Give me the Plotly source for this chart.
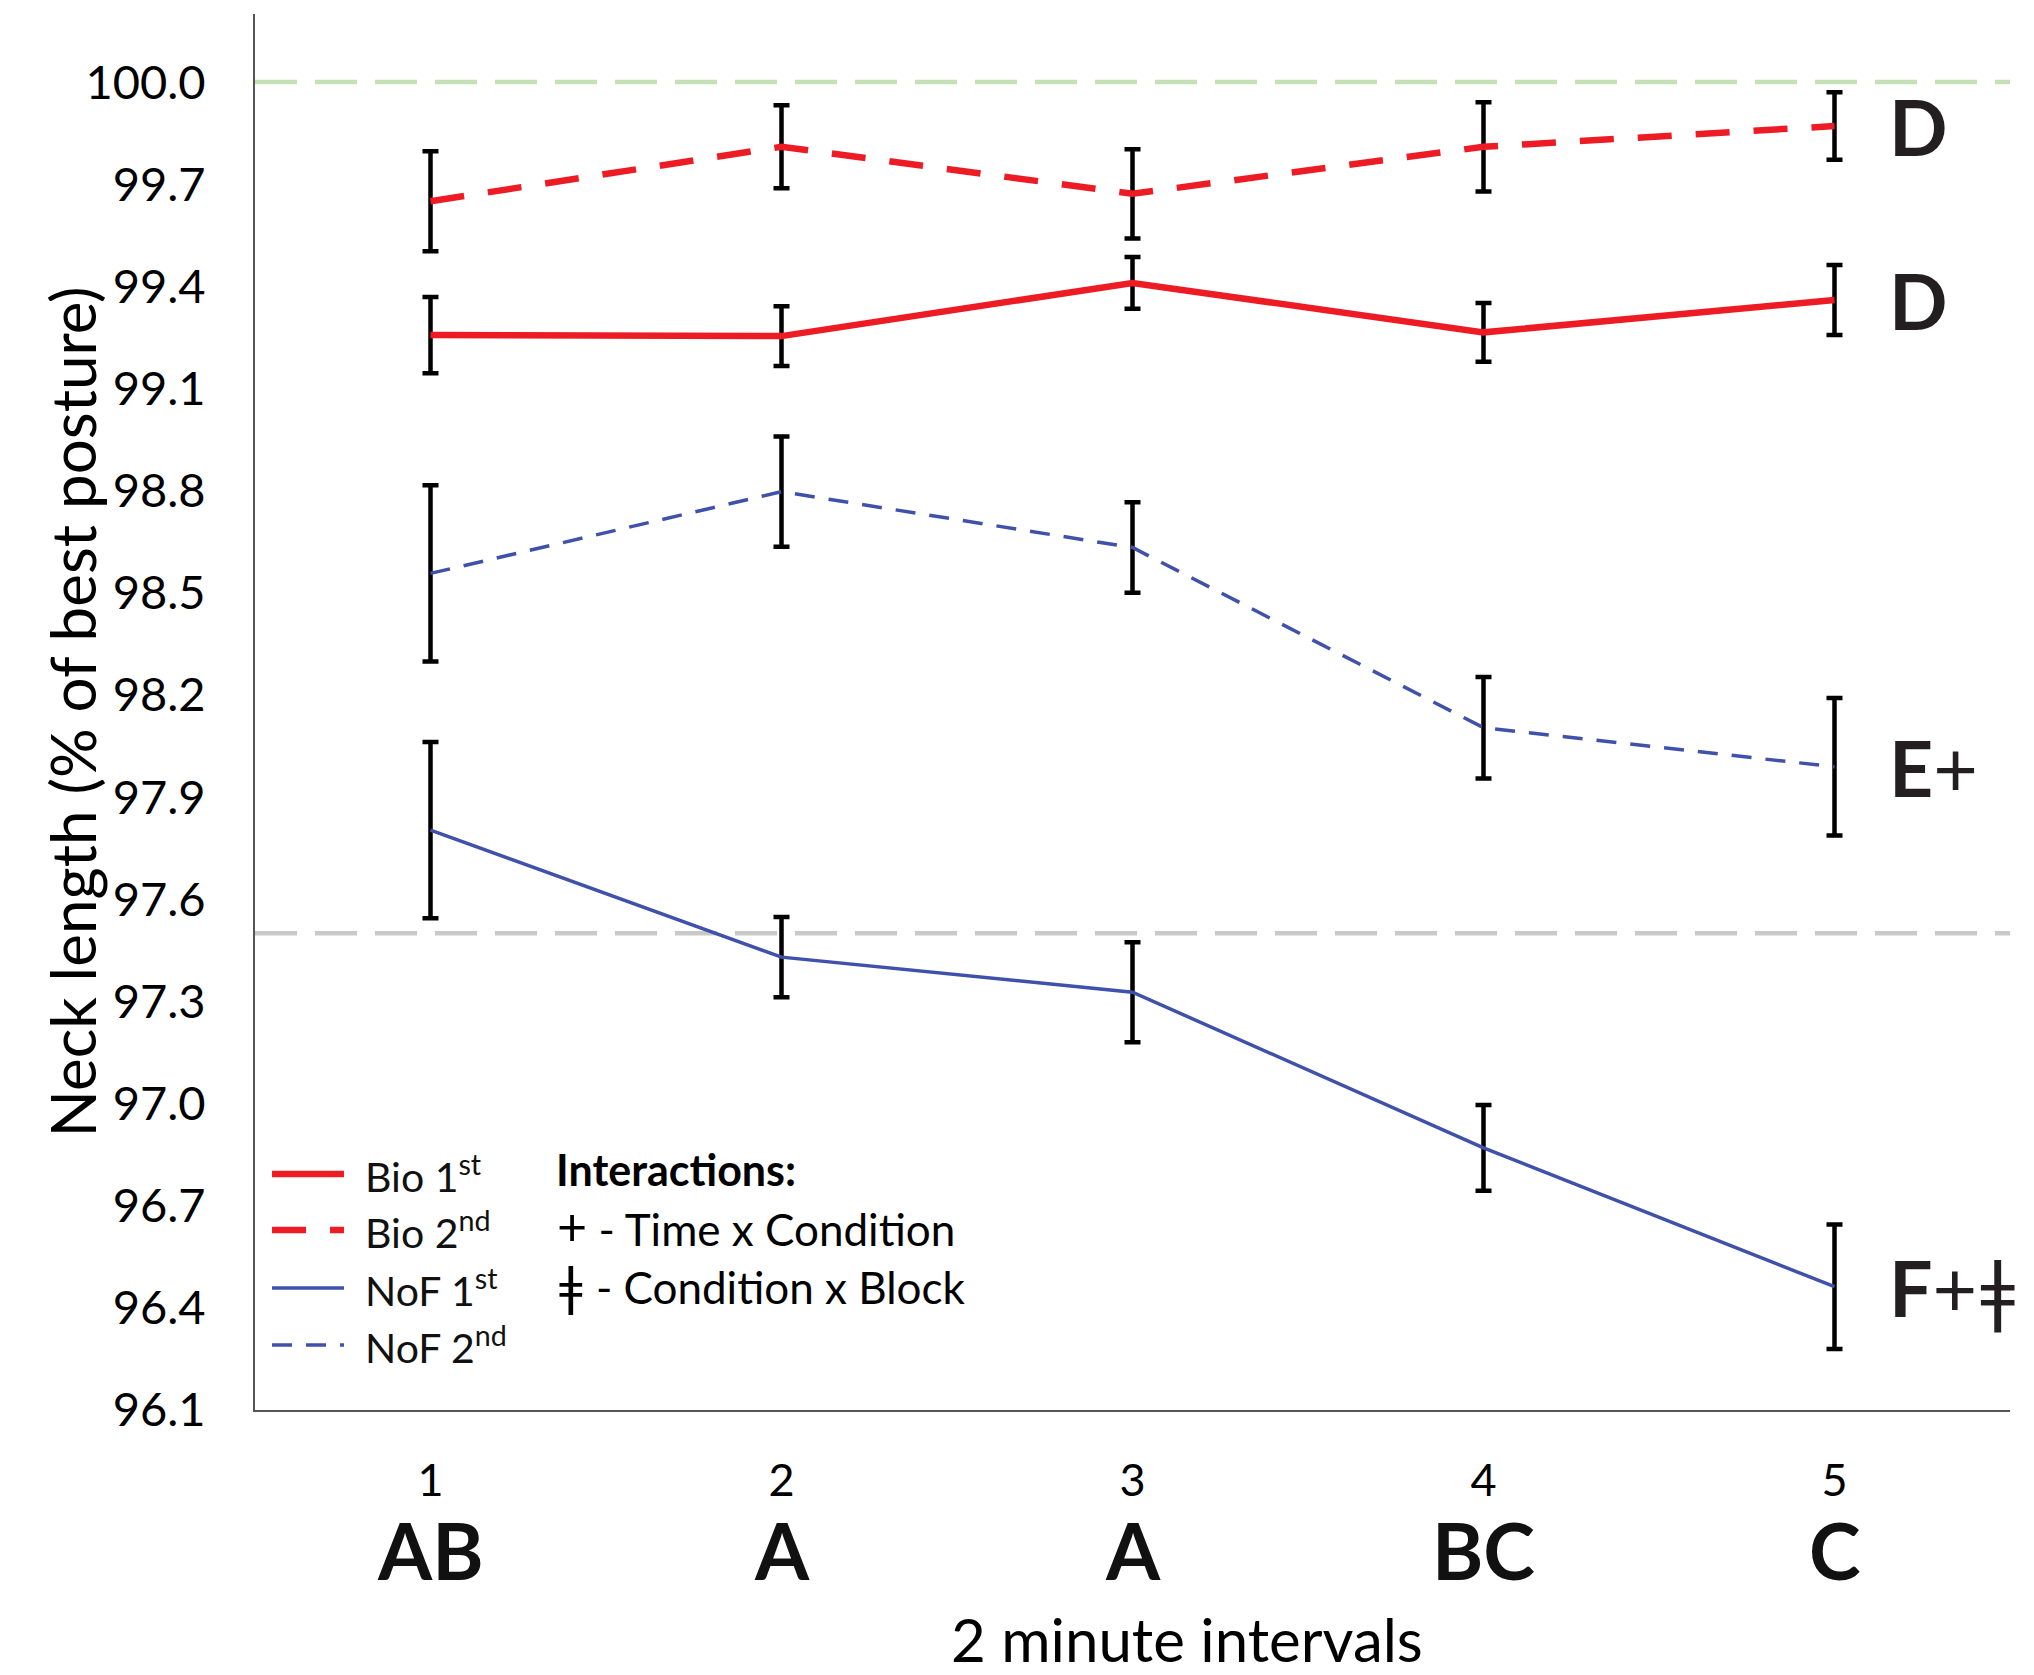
import plotly.graph_objects as go

# ---------------- data ----------------
intervals = [1, 2, 3, 4, 5]
interval_labels = ["1", "2", "3", "4", "5"]
interval_groups = ["AB", "A", "A", "BC", "C"]

bio1 = [99.257, 99.254, 99.410, 99.265, 99.360]
bio1_err = [0.112, 0.088, 0.076, 0.086, 0.103]
bio2 = [99.650, 99.810, 99.672, 99.810, 99.871]
bio2_err = [0.147, 0.122, 0.131, 0.131, 0.099]
nof1 = [97.803, 97.430, 97.327, 96.870, 96.462]
nof1_err = [0.259, 0.118, 0.147, 0.126, 0.183]
nof2 = [98.557, 98.797, 98.633, 98.104, 97.989]
nof2_err = [0.259, 0.162, 0.133, 0.149, 0.202]

series_names = ["Bio 1<sup>st</sup>", "Bio 2<sup>nd</sup>", "NoF 1<sup>st</sup>", "NoF 2<sup>nd</sup>"]
end_groups = ["D", "D", "F", "E"]
end_marks = ["", "", "+ǂ", "+"]

y_tickvals = [96.1, 96.4, 96.7, 97.0, 97.3, 97.6, 97.9, 98.2, 98.5, 98.8, 99.1, 99.4, 99.7, 100.0]
best_posture = 100.0
threshold = 97.5

interaction_title = "Interactions:"
interaction_symbols = ["+", "ǂ"]
interaction_texts = [" - Time x Condition", " - Condition x Block"]

# ---------------- styling ----------------
RED = "#ED1C24"
BLUE = "#3F51AA"
FONT = "Lato"

line_styles = [
    dict(color=RED, width=6.5, dash="solid"),
    dict(color=RED, width=6.5, dash="34px,24px"),
    dict(color=BLUE, width=3.5, dash="solid"),
    dict(color=BLUE, width=3.5, dash="20px,14px"),
]
series_vals = [bio1, bio2, nof1, nof2]
series_errs = [bio1_err, bio2_err, nof1_err, nof2_err]

fig = go.Figure()
for vals, errs, line, name in zip(series_vals, series_errs, line_styles, series_names):
    fig.add_trace(go.Scatter(
        x=intervals, y=vals, mode="lines", name=name, line=line, showlegend=False,
        error_y=dict(type="data", array=errs, visible=True,
                     color="black", thickness=4.5, width=8),
    ))

# reference lines
fig.add_shape(type="line", xref="paper", yref="y", x0=0, x1=1,
              y0=best_posture, y1=best_posture,
              line=dict(color="#C5E0B4", width=4.5, dash="42px,18px"), layer="below")
fig.add_shape(type="line", xref="paper", yref="y", x0=0, x1=1,
              y0=threshold, y1=threshold,
              line=dict(color="#C9C9C9", width=4.5, dash="42px,18px"), layer="below")

# group letters under x ticks
for xv, g in zip(intervals, interval_groups):
    fig.add_annotation(x=xv, xref="x", y=-0.1, yref="paper", text=f"<b>{g}</b>",
                       showarrow=False, yanchor="middle",
                       font=dict(family=FONT, size=78, color="#111111"))

# letters at line ends
for vals, g, m in zip([bio2, bio1, nof1, nof2], end_groups, end_marks):
    fig.add_annotation(x=intervals[-1], xref="x", y=vals[-1], yref="y",
                       text=f"<b>{g}</b>{m}", showarrow=False,
                       xanchor="left", yanchor="middle", xshift=52,
                       font=dict(family=FONT, size=77, color="#231F20"))

# custom legend (wide swatches, like the reference)
leg_rows = [0.169, 0.129, 0.0874, 0.0466]
for name, line, yr in zip(series_names, line_styles, leg_rows):
    fig.add_shape(type="line", xref="paper", yref="paper", x0=0.0097, x1=0.0507,
                  y0=yr, y1=yr, line=line)
    fig.add_annotation(x=0.0615, xref="paper", y=yr, yref="paper", text=name,
                       showarrow=False, xanchor="left", yanchor="middle",
                       font=dict(family=FONT, size=41, color="#111111"))

# interactions key
fig.add_annotation(x=0.1705, xref="paper", y=0.172, yref="paper",
                   text=f"<b>{interaction_title}</b>",
                   showarrow=False, xanchor="left", yanchor="middle",
                   font=dict(family=FONT, size=43, color="black"))
for sym, txt, yr in zip(interaction_symbols, interaction_texts, [0.132, 0.090]):
    fig.add_annotation(x=0.171, xref="paper", y=yr, yref="paper",
                       text=f"<span style='font-size:52px'>{sym}</span>{txt}",
                       showarrow=False, xanchor="left", yanchor="middle",
                       font=dict(family=FONT, size=44, color="black"))

# axis titles
fig.add_annotation(x=0.531, xref="paper", y=-0.164, yref="paper", text="2 minute intervals",
                   showarrow=False, yanchor="middle",
                   font=dict(family=FONT, size=60, color="black"))
fig.add_annotation(x=-0.104, xref="paper", y=0.5, yref="paper",
                   text="Neck length (% of best posture)", textangle=-90,
                   showarrow=False, xanchor="center", yanchor="middle",
                   font=dict(family=FONT, size=62, color="black"))

fig.update_layout(
    width=2034, height=1675,
    margin=dict(l=255, r=24, t=14, b=265),
    paper_bgcolor="white", plot_bgcolor="white",
    font=dict(family=FONT, color="black"),
    showlegend=False,
    xaxis=dict(range=[0.5, 5.5], tickvals=intervals, ticktext=interval_labels,
               showgrid=False, zeroline=False, showline=True, linecolor="#555555",
               linewidth=2, ticks="", ticklabelstandoff=30,
               tickfont=dict(family=FONT, size=45, color="black")),
    yaxis=dict(range=[96.1, 100.2], tickvals=y_tickvals, tickformat=".1f",
               showgrid=False, zeroline=False, showline=True, linecolor="#555555",
               linewidth=2, ticks="", ticklabelstandoff=38,
               tickfont=dict(family=FONT, size=47, color="black")),
)

fig.write_html("out.html")
